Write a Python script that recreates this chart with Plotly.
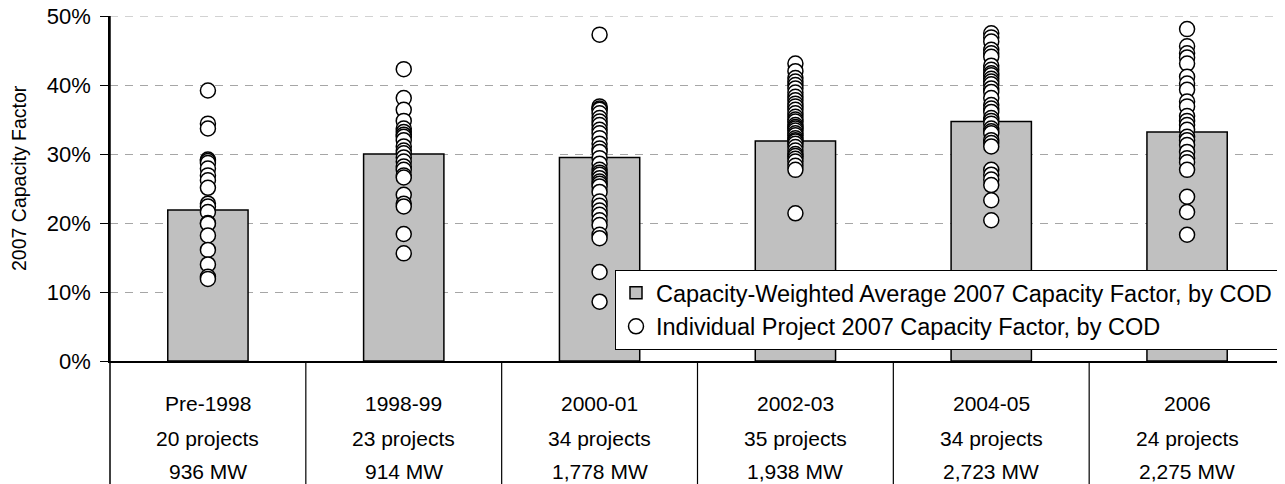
import plotly.graph_objects as go

categories = ["Pre-1998", "1998-99", "2000-01", "2002-03", "2004-05", "2006"]
project_counts = ["20 projects", "23 projects", "34 projects", "35 projects", "34 projects", "24 projects"]
capacity_mw = ["936 MW", "914 MW", "1,778 MW", "1,938 MW", "2,723 MW", "2,275 MW"]

weighted_avg = [0.219, 0.300, 0.295, 0.319, 0.347, 0.332]

pre1998 = [39.2, 34.4, 33.7, 29.2, 29.0, 28.7, 27.9, 26.9, 26.2, 25.1, 22.8, 22.4, 21.6,
           20.0, 19.9, 18.2, 16.1, 14.0, 12.2, 11.9]
y1998_99 = [42.3, 38.1, 36.4, 34.8, 33.7, 33.2, 32.8, 32.5, 32.0, 31.1, 30.5, 30.1, 29.5,
            28.9, 28.2, 27.7, 26.9, 26.6, 24.1, 22.8, 22.4, 18.4, 15.6]
y2000_01 = [47.3, 36.9, 36.6, 36.4, 35.9, 35.2, 34.7, 34.2, 33.5, 33.0, 32.3, 31.5, 30.8,
            30.3, 29.4, 28.6, 27.7, 27.3, 27.0, 26.5, 26.0, 25.7, 25.3, 24.5, 23.1,
            22.5, 21.8, 21.2, 20.4, 19.7, 18.3, 17.8, 12.9, 8.6]
y2002_03 = [43.1, 42.0, 41.0, 40.5, 40.0, 39.5, 38.9, 38.3, 37.8, 37.3, 36.9, 36.4, 35.9,
            35.4, 35.0, 34.7, 34.2, 33.9, 33.7, 33.4, 33.0, 32.7, 32.3, 32.0, 31.8, 31.5,
            31.0, 30.5, 30.0, 29.7, 29.3, 28.9, 28.3, 27.7, 21.4]
y2004_05 = [47.5, 46.9, 46.3, 45.1, 44.6, 44.1, 42.8, 42.2, 41.7, 41.4, 40.9, 40.5, 40.1,
            39.5, 39.0, 38.1, 37.1, 36.6, 36.1, 35.2, 34.8, 34.4, 33.7, 33.3, 33.0, 32.0,
            31.6, 31.1, 27.7, 27.0, 26.3, 25.5, 23.3, 20.4]
y2006 = [48.1, 45.6, 44.6, 44.0, 43.1, 41.2, 40.2, 39.3, 37.6, 36.9, 35.5, 34.8, 34.2,
         33.5, 32.5, 32.0, 31.3, 30.3, 29.4, 28.8, 27.7, 23.8, 21.6, 18.3]
individual = [pre1998, y1998_99, y2000_01, y2002_03, y2004_05, y2006]

tick_vals = [0, 0.1, 0.2, 0.3, 0.4, 0.5]
tick_text = ["0%", "10%", "20%", "30%", "40%", "50%"]
y_title = "2007 Capacity Factor"

FONT = "Liberation Sans, Arial, sans-serif"
FS = 21
GRID_COLOR = "#A6A6A6"
GRID_DASH = "8px,7px"

# The page body adds an 8px offset; size the figure to compensate.
OFF = 8
W, H = 1285 - OFF, 484 - OFF
ML, MR, MT, MB = 110 - OFF, 0, 16 - OFF, 484 - 361
plot_w = W - ML - MR
plot_h = H - MT - MB

xs = list(range(len(categories)))

fig = go.Figure()
fig.add_trace(go.Bar(
    x=xs, y=weighted_avg, width=0.41,
    marker=dict(color="#C0C0C0", line=dict(color="black", width=1.5)),
    name="Capacity-Weighted Average 2007 Capacity Factor, by COD",
))
px_, py_ = [], []
for i, vals in enumerate(individual):
    for v in vals:
        px_.append(i)
        py_.append(v / 100.0)
fig.add_trace(go.Scatter(
    x=px_, y=py_, mode="markers",
    marker=dict(symbol="circle", size=15, color="white", line=dict(color="black", width=1.5)),
    name="Individual Project 2007 Capacity Factor, by COD",
))

def py(pix):
    # pix is a screen pixel row in the reference
    return (H - MB - (pix - OFF)) / plot_h

def px(pix):
    return (pix - OFF - ML) / plot_w

shapes = []
# top gridline (plotly omits the gridline at the range edge)
shapes.append(dict(type="line", xref="paper", yref="y", x0=0, x1=1,
                   y0=tick_vals[-1], y1=tick_vals[-1], layer="below",
                   line=dict(color=GRID_COLOR, width=1, dash=GRID_DASH)))
for k in range(1, len(categories)):
    shapes.append(dict(type="line", xref="x", yref="paper", x0=k - 0.5, x1=k - 0.5,
                       y0=py(484), y1=0, line=dict(color="black", width=1.2)))
shapes.append(dict(type="line", xref="paper", yref="paper", x0=0, x1=0,
                   y0=py(484), y1=1, line=dict(color="black", width=1.5)))

annotations = []
rows = [(categories, 403), (project_counts, 438), (capacity_mw, 471)]
for labels, ypix in rows:
    for i, t in enumerate(labels):
        annotations.append(dict(x=i, y=py(ypix), xref="x", yref="paper", text=t,
                                showarrow=False, font=dict(family=FONT, size=FS, color="black"),
                                xanchor="center", yanchor="middle"))
annotations.append(dict(x=px(19), y=py(178), xref="paper", yref="paper", text=y_title,
                        textangle=-90, showarrow=False, xanchor="center", yanchor="middle",
                        font=dict(family=FONT, size=19.5, color="black")))

fig.update_layout(
    width=W, height=H,
    margin=dict(l=ML, r=MR, t=MT, b=MB),
    paper_bgcolor="white", plot_bgcolor="white",
    font=dict(family=FONT, size=FS, color="black"),
    showlegend=True,
    legend=dict(x=px(615), y=py(270), xanchor="left", yanchor="top",
                bgcolor="white", bordercolor="black", borderwidth=1,
                font=dict(family=FONT, size=23.5, color="black"),
                itemwidth=30, tracegroupgap=0),
    shapes=shapes,
    annotations=annotations,
    bargap=0.59,
)
fig.update_xaxes(range=[-0.5, 5.5], showticklabels=False, showgrid=False, zeroline=False,
                 showline=True, linecolor="black", linewidth=1.5, ticks="")
fig.update_yaxes(range=[0, 0.5], tickvals=tick_vals, ticktext=tick_text, automargin=False,
                 ticklabeloverflow="allow",
                 showgrid=True, gridcolor=GRID_COLOR, griddash=GRID_DASH, gridwidth=1,
                 zeroline=False, showline=True, linecolor="black", linewidth=1.5,
                 ticks="outside", ticklen=8, tickcolor="black", ticklabelstandoff=5,
                 tickfont=dict(family=FONT, size=22))

fig.write_html("out.html")
